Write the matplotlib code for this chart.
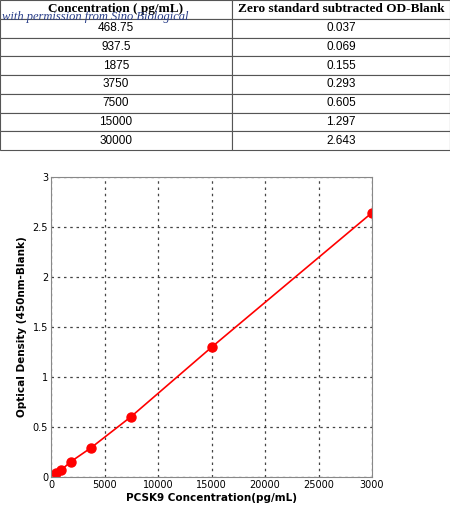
import matplotlib
matplotlib.use("Agg")
import matplotlib.pyplot as plt

conc_labels = ["468.75", "937.5", "1875", "3750", "7500", "15000", "30000"]
od_labels = ["0.037", "0.069", "0.155", "0.293", "0.605", "1.297", "2.643"]
conc = [468.75, 937.5, 1875, 3750, 7500, 15000, 30000]
od = [0.037, 0.069, 0.155, 0.293, 0.605, 1.297, 2.643]
headers = ["Concentration ( pg/mL)", "Zero standard subtracted OD-Blank"]
xticks = [0, 5000, 10000, 15000, 20000, 25000, 30000]
xticklabels = ["0", "5000", "10000", "15000", "20000", "25000", "3000"]
yticks = [0, 0.5, 1, 1.5, 2, 2.5, 3]
yticklabels = ["0", "0.5", "1", "1.5", "2", "2.5", "3"]

fig = plt.figure(figsize=(4.5, 5.22), dpi=100)

tax = fig.add_axes([0, 1 - 150/522, 1, 150/522])
tax.axis("off")
cells = [[a, b] for a, b in zip(conc_labels, od_labels)]
tbl = tax.table(cellText=cells, colLabels=headers, colWidths=[232/450, 218/450],
                cellLoc="center", bbox=[0, 0, 1, 1])
tbl.auto_set_font_size(False)
for (r, c), cell in tbl.get_celld().items():
    cell.set_linewidth(0.8)
    cell.set_edgecolor("#555555")
    t = cell.get_text()
    if r == 0:
        t.set_fontfamily("Liberation Serif")
        t.set_fontsize(9.5)
        t.set_fontweight("bold")
    else:
        t.set_fontfamily("Liberation Sans")
        t.set_fontsize(8.5)
fig.text(0.005, 1 - 17/522, "with permission from Sino Biological", fontsize=9,
         fontstyle="italic", family="Liberation Serif", color="#2a3f8a", va="center")

ax = fig.add_axes([51/450, 45/522, 321/450, 300/522])
ax.plot(conc, od, color="red", lw=1.2, marker="o", ms=6.5)
ax.set_xlim(0, 30000)
ax.set_ylim(0, 3)
ax.set_xticks(xticks)
ax.set_xticklabels(xticklabels)
ax.set_yticks(yticks)
ax.set_yticklabels(yticklabels)
ax.grid(True, ls=(0, (2, 3)), color="#444444", lw=0.9)
ax.tick_params(labelsize=7, length=0, pad=2)
for s in ax.spines.values():
    s.set_color("#888888")
ax.set_xlabel("PCSK9 Concentration(pg/mL)", fontsize=7.5, fontweight="bold", labelpad=2)
ax.set_ylabel("Optical Density (450nm-Blank)", fontsize=7.5, fontweight="bold", labelpad=4)

fig.savefig("out.png", dpi=100)
